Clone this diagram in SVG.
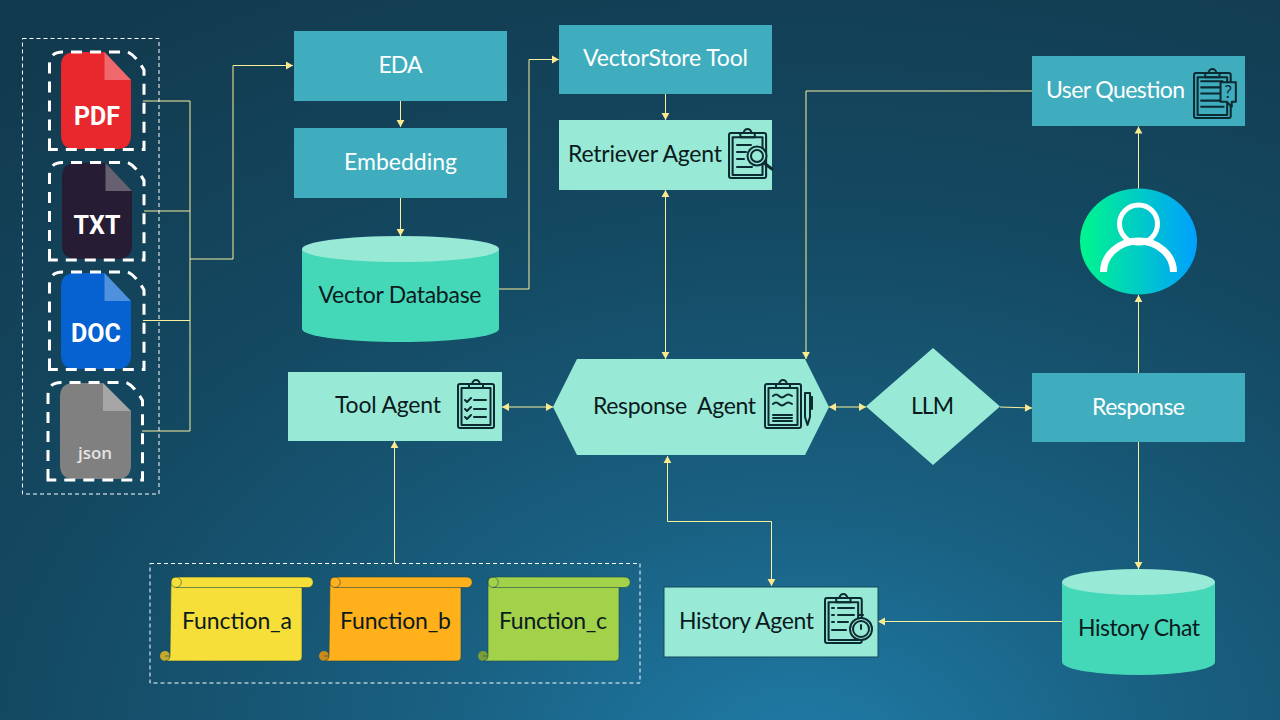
<svg xmlns="http://www.w3.org/2000/svg" xmlns:xlink="http://www.w3.org/1999/xlink" width="1280" height="720" viewBox="0 0 1280 720">
<style>
text{font-family:"Lato","Open Sans","Liberation Sans",sans-serif;font-size:23px;text-anchor:middle;dominant-baseline:auto}
.dk{fill:#0b1a20}.wh{fill:#fff}
.blue{fill:#3fadbd}.mint{fill:#98ead6}.cyl{fill:#45d8b8}
.ico{fill:none;stroke:#0c2a31;stroke-width:2;stroke-linecap:round;stroke-linejoin:round}
.c{fill:none;stroke:#f8f09c;stroke-width:1}
.box{fill:none;stroke:#fff;stroke-width:1;stroke-dasharray:4 3}
.dash{fill:none;stroke:#fff;stroke-width:3;stroke-dasharray:11 8}
.ft{font-family:"Roboto","Liberation Sans",sans-serif;font-weight:700;fill:#fff;font-size:25px}
.fold{fill:#fff;fill-opacity:.3}
.sl{stroke:#1f4a4f;stroke-opacity:.75;stroke-width:.8}
</style>
<defs>
<radialGradient id="bg" gradientUnits="userSpaceOnUse" cx="800" cy="760" r="880" gradientTransform="translate(800 760) scale(1.45 1) translate(-800 -760)">
<stop offset="0" stop-color="#1f7ca8"/><stop offset=".3" stop-color="#195f80"/><stop offset=".6" stop-color="#144a63"/><stop offset="1" stop-color="#123a4e"/>
</radialGradient>
<linearGradient id="usr" x1="0" x2="1" y1="0" y2="0"><stop offset="0" stop-color="#00f68c"/><stop offset="1" stop-color="#00a0ff"/></linearGradient>
<marker id="a" markerUnits="userSpaceOnUse" markerWidth="9" markerHeight="9" refX="8" refY="4.5" orient="auto-start-reverse"><path d="M1 .6L8 4.5L1 8.4z" fill="#fbe98f"/></marker>
<path id="dashp" d="M0 97.500V13Q0 0 13 0H78Q86 3 94.500 18V97.500Z"/>
<g id="clip"><rect x="1" y="5" width="36" height="44" rx="2"/><rect x="4.500" y="9" width="29" height="37"/><path d="M12 9V5H15Q16 1 19 1Q22 1 23 5H26V9Z"/></g>
</defs>
<rect width="1280" height="720" fill="url(#bg)"/>

<g id="connectors">
<path class="c" d="M143 101H190M144 211H190M143 320.500H190M142 431H190M190 101V431"/>
<path class="c" d="M190 259H233V65.500H293" marker-end="url(#a)"/>
<path class="c" d="M400.500 101V127" marker-end="url(#a)"/>
<path class="c" d="M400.500 198V236" marker-end="url(#a)"/>
<path class="c" d="M499 289H529V59.500H559" marker-end="url(#a)"/>
<path class="c" d="M665.500 94V120" marker-end="url(#a)"/>
<path class="c" d="M665.500 190V359" marker-start="url(#a)" marker-end="url(#a)"/>
<path class="c" d="M502 407H553" marker-start="url(#a)" marker-end="url(#a)"/>
<path class="c" d="M829 407H866" marker-start="url(#a)" marker-end="url(#a)"/>
<path class="c" d="M1000 407L1032 408" marker-end="url(#a)"/>
<path class="c" d="M1138.500 373V295" marker-end="url(#a)"/>
<path class="c" d="M1138.500 189V126.500" marker-end="url(#a)"/>
<path class="c" d="M1032 91H806V359" marker-end="url(#a)"/>
<path class="c" d="M1138.500 442V569" marker-end="url(#a)"/>
<path class="c" d="M1062 621.500H878" marker-end="url(#a)"/>
<path class="c" d="M771.500 586V521.500H667.500V456" marker-start="url(#a)" marker-end="url(#a)"/>
<path class="c" d="M394.500 563V441" marker-end="url(#a)"/>
</g>

<g id="files">
<rect class="box" x="22.500" y="38.500" width="136.500" height="455.500"/>
<g id="file-pdf"><path d="M61 66Q61 52 75 52H104.500L131 80V135Q131 149 117 149H75Q61 149 61 135Z" fill="#e8282c"/><path class="fold" d="M104.500 52L131 80H104.500Z"/><text class="ft" x="97" y="125">PDF</text><use href="#dashp" class="dash" transform="translate(49.500 52)"/></g>
<g id="file-txt"><path d="M62 177Q62 163 76 163H105.500L132 191V245Q132 259 118 259H76Q62 259 62 245Z" fill="#261c33"/><path class="fold" d="M105.500 163L132 191H105.500Z"/><text class="ft" x="97" y="234">TXT</text><use href="#dashp" class="dash" transform="translate(49.500 162.500)"/></g>
<g id="file-doc"><path d="M61 287Q61 273 75 273H104.500L131 301V355Q131 369 117 369H75Q61 369 61 355Z" fill="#0562d0"/><path class="fold" d="M104.500 273L131 301H104.500Z"/><text class="ft" x="96" y="342">DOC</text><use href="#dashp" class="dash" transform="translate(49.500 272)"/></g>
<g id="file-json"><path d="M60 397Q60 383 74 383H103L131 411V465Q131 479 117 479H74Q60 479 60 465Z" fill="#808080"/><path class="fold" d="M103 383L131 411H103Z" fill-opacity=".5"/><text x="95" y="459" style="font-family:'Open Sans',sans-serif;font-weight:600;font-size:17px;fill:#e4e4e4">json</text><use href="#dashp" class="dash" transform="translate(48 382.500)"/></g>
</g>

<g id="eda"><rect class="blue" x="294" y="31" width="213" height="70"/><text class="wh" x="400.500" y="73" textLength="44">EDA</text></g>
<g id="embedding"><rect class="blue" x="294" y="128" width="213" height="70"/><text class="wh" x="400.500" y="170" textLength="113">Embedding</text></g>
<g id="vector-database"><path class="cyl" d="M302 249V329A98.500 13 0 0 0 499 329V249Z"/><ellipse cx="400.500" cy="249" rx="98.500" ry="13" fill="#98ead6"/><text class="dk" x="400" y="303" textLength="163">Vector Database</text></g>
<g id="vectorstore"><rect class="blue" x="559" y="25" width="213" height="69"/><text class="wh" x="665.500" y="66" textLength="165">VectorStore Tool</text></g>
<g id="retriever"><rect class="mint" x="559" y="120" width="213" height="70"/><text class="dk" x="645" y="162" textLength="154">Retriever Agent</text>
<g class="ico" transform="translate(728 128)"><use href="#clip" transform="scale(1.03 1.02)"/><path d="M9 17H23M9 24H18M9 31H16M9 39H24"/><circle cx="29" cy="28" r="9.500" fill="#98ead6"/><circle cx="29" cy="28" r="6"/><path d="M36 35L44 41" stroke-width="3"/></g></g>
<g id="user-question"><rect class="blue" x="1032" y="56" width="213" height="70"/><text class="wh" x="1115.500" y="98" textLength="139">User Question</text>
<g class="ico" transform="translate(1193 68) scale(1.02)"><use href="#clip"/><path d="M8 13H29M8 19H28M8 25H26M8 32H26M8 38H30"/><path d="M27 14H42V33H38V38L33 33H27Z" fill="#3fadbd"/><text x="34.500" y="29.500" style="font-size:17px;fill:#0c2a31;stroke:none">?</text></g></g>
<g id="user-icon"><ellipse cx="1138.500" cy="241.500" rx="58.500" ry="53" fill="url(#usr)"/><circle cx="1138.500" cy="224" r="19" fill="none" stroke="#fff" stroke-width="5"/><path d="M1103.500 272A35 31 0 0 1 1173.500 272" fill="none" stroke="#fff" stroke-width="7"/></g>
<g id="tool-agent"><rect class="mint" x="288" y="372" width="214" height="69"/><text class="dk" x="388" y="413" textLength="106">Tool Agent</text>
<g class="ico" transform="translate(457 379)"><use href="#clip"/><path d="M8 21L10 23L14 19M8 30L10 32L14 28M8 38L10 40L14 36M17 21H29M17 30H29M17 38H29"/></g></g>
<g id="response-agent"><path class="mint" d="M553 407L577 359H805L829 407L805 455H577Z"/><text class="dk" x="674.500" y="414" textLength="163" xml:space="preserve">Response  Agent</text>
<g class="ico" transform="translate(764 379)"><use href="#clip"/><path d="M9 17Q12 14 15 17T21 17T28 17M9 25Q12 22 15 25T21 25T28 25M9 36H28M9 39H28M9 42H28"/><path d="M41 14H46V38L43.500 46L41 38ZM46 18H48V30"/></g></g>
<g id="llm"><path class="mint" d="M866 406.500L933 348L1000 406.500L933 465Z"/><text class="dk" x="932.500" y="414" textLength="43">LLM</text></g>
<g id="response"><rect class="blue" x="1032" y="373" width="213" height="69"/><text class="wh" x="1138.500" y="415" textLength="93">Response</text></g>
<g id="history-chat"><path class="cyl" d="M1062 582V662A76.500 13 0 0 0 1215 662V582Z"/><ellipse cx="1138.500" cy="582" rx="76.500" ry="13" fill="#98ead6"/><text class="dk" x="1139" y="636" textLength="122">History Chat</text></g>
<g id="history-agent"><rect class="mint" x="664" y="587" width="214" height="70" stroke="#134a5c"/><text class="dk" x="746.500" y="629" textLength="135">History Agent</text>
<g class="ico" transform="translate(824 593)"><use href="#clip" transform="scale(1.02)"/><path d="M8 15H10M8 22H10M8 29H10M14 15H30M14 22H30M14 29H24M8 37H22"/><circle cx="37" cy="36" r="11" fill="#98ead6"/><circle cx="37" cy="36" r="8"/><path d="M37 32V36M35 22H39"/></g></g>

<g id="functions">
<rect class="box" x="150" y="563.500" width="490" height="119.500"/>
<g id="function-a"><circle cx="165" cy="656" r="5" fill="#c4a92c"/><path class="sl" d="M171 582Q171 577 176 577H308A5 5 0 0 1 308 587.500H302V657Q302 661 298 661H165A5 5 0 0 0 170 656Z" fill="#f5df38"/><path class="sl" fill="none" d="M176 587.500H302M176 577A5 5 0 0 1 176 587.500"/><path class="sl" fill="none" d="M165 656H170M176 577A5 5 0 0 0 176 587.500"/><text class="dk" x="237" y="629" textLength="110">Function_a</text></g>
<g id="function-b"><circle cx="324" cy="656" r="5" fill="#c98a18"/><path class="sl" d="M330 582Q330 577 335 577H467A5 5 0 0 1 467 587.500H461V657Q461 661 457 661H324A5 5 0 0 0 329 656Z" fill="#ffb01a"/><path class="sl" fill="none" d="M335 587.500H461M335 577A5 5 0 0 1 335 587.500"/><path class="sl" fill="none" d="M324 656H329M335 577A5 5 0 0 0 335 587.500"/><text class="dk" x="395.500" y="629" textLength="111">Function_b</text></g>
<g id="function-c"><circle cx="483" cy="656" r="5" fill="#7d9e36"/><path class="sl" d="M488 582Q488 577 493 577H625A5 5 0 0 1 625 587.500H619V657Q619 661 615 661H483A5 5 0 0 0 488 656Z" fill="#a2d14a"/><path class="sl" fill="none" d="M493 587.500H619M493 577A5 5 0 0 1 493 587.500"/><path class="sl" fill="none" d="M483 656H488M493 577A5 5 0 0 0 493 587.500"/><text class="dk" x="553" y="629" textLength="108">Function_c</text></g>
</g>
</svg>
